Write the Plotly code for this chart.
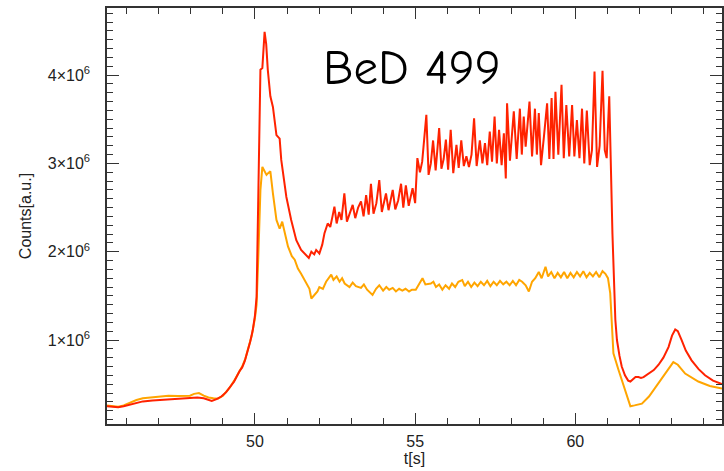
import plotly.graph_objects as go

# Time axis [s] and counts in units of 1e6 (a.u.)
t_red = [45.38, 45.55, 45.73, 45.9, 46.1, 46.3, 46.5, 46.8, 47.04, 47.3, 47.6, 47.97, 48.2, 48.4, 48.55, 48.65, 48.8, 48.95,
         49.1, 49.21, 49.35, 49.52, 49.6, 49.68, 49.78, 49.85, 49.93, 50.0, 50.05, 50.12, 50.17, 50.23, 50.30, 50.35,
         50.40, 50.48, 50.56, 50.67, 50.77, 50.82, 50.98, 51.13, 51.29, 51.44, 51.6, 51.68, 51.76, 51.85, 51.91, 52.01,
         52.1, 52.17, 52.27, 52.35, 52.42, 52.48, 52.55, 52.63, 52.70, 52.79, 52.87, 52.96, 53.05, 53.13, 53.22, 53.31,
         53.39, 53.47, 53.55, 53.62, 53.70, 53.79, 53.88, 53.96, 54.09, 54.17, 54.23, 54.30, 54.38, 54.47, 54.56, 54.63,
         54.71, 54.80, 54.92, 55.0, 55.07, 55.15, 55.22, 55.35, 55.42, 55.49, 55.56, 55.64, 55.75, 55.82, 55.89, 55.96,
         56.03, 56.11, 56.19, 56.29, 56.36, 56.44, 56.52, 56.60, 56.68, 56.76, 56.84, 56.92, 57.02, 57.10, 57.18, 57.25,
         57.33, 57.40, 57.48, 57.55, 57.62, 57.70, 57.77, 57.83, 57.87, 57.96, 58.08, 58.17, 58.27, 58.33, 58.39, 58.45,
         58.57, 58.65, 58.74, 58.80, 58.86, 58.93, 59.02, 59.12, 59.19, 59.26, 59.32, 59.38, 59.47, 59.57, 59.64, 59.72,
         59.81, 59.90, 59.97, 60.05, 60.13, 60.21, 60.28, 60.36, 60.45, 60.52, 60.60, 60.68, 60.76, 60.85, 60.92, 60.98,
         61.06, 61.10, 61.16, 61.25, 61.30, 61.38, 61.45, 61.55, 61.65, 61.72, 61.80, 61.88, 61.97, 62.05, 62.13, 62.3,
         62.45, 62.6, 62.75, 62.91, 63.02, 63.12, 63.2, 63.32, 63.45, 63.63, 63.85, 64.05, 64.3, 64.58]
v_red = [0.25, 0.245, 0.24, 0.25, 0.27, 0.29, 0.305, 0.315, 0.32, 0.33, 0.335, 0.34, 0.35, 0.34, 0.32, 0.31, 0.33, 0.36,
         0.41, 0.46, 0.53, 0.65, 0.69, 0.76, 0.88, 0.98, 1.11, 1.28, 1.49, 2.8, 4.06, 4.08, 4.49, 4.35,
         4.06, 3.76, 3.64, 3.32, 3.28, 3.04, 2.62, 2.36, 2.13, 2.02, 1.96, 1.93, 2.0, 1.97, 2.02, 1.98,
         2.08, 2.21, 2.32, 2.28, 2.40, 2.51, 2.32, 2.45, 2.36, 2.66, 2.34, 2.45, 2.53, 2.38, 2.50, 2.57,
         2.40, 2.64, 2.42, 2.77, 2.43, 2.55, 2.81, 2.45, 2.66, 2.47, 2.60, 2.70, 2.48, 2.58, 2.77, 2.50,
         2.75, 2.52, 2.72, 2.55, 3.06, 2.90, 3.02, 3.55, 2.87, 3.00, 3.26, 2.92, 3.40, 2.94, 3.05, 3.27,
         2.93, 3.38, 2.89, 3.21, 2.95, 3.26, 2.97, 3.08, 2.96, 3.10, 3.51, 2.97, 3.26, 3.0, 3.23, 2.98,
         3.36, 3.02, 3.53, 3.0, 3.38, 2.98, 3.34, 2.83, 3.68, 3.03, 3.59, 3.05, 3.62, 3.10, 3.53, 3.19,
         3.70, 3.08, 3.62, 3.10, 3.57, 2.98, 3.30, 3.68, 3.05, 3.74, 3.05, 3.81, 3.10, 3.89, 3.06, 3.66,
         3.08, 3.66, 3.08, 3.49, 3.06, 3.62, 3.0, 3.60, 2.98, 3.15, 4.04, 2.96, 3.20, 4.05, 3.15, 3.06,
         3.76, 3.06, 2.2, 1.23, 1.0, 0.82, 0.70, 0.6, 0.54, 0.53, 0.55, 0.58, 0.58, 0.57, 0.58, 0.62,
         0.66, 0.72, 0.80, 0.92, 1.05, 1.12, 1.10, 1.0, 0.88, 0.77, 0.67, 0.60, 0.54, 0.50]

t_orange = [45.38, 45.55, 45.73, 45.9, 46.1, 46.3, 46.5, 46.8, 47.04, 47.3, 47.6, 47.97, 48.1, 48.25, 48.4, 48.55, 48.7,
            48.84, 49.0, 49.21, 49.35, 49.52, 49.6, 49.7, 49.8, 49.9, 50.0, 50.05, 50.1, 50.17, 50.23, 50.3, 50.36,
            50.41, 50.48, 50.56, 50.67, 50.77, 50.85, 51.03, 51.15, 51.24, 51.34, 51.44, 51.49, 51.6, 51.7, 51.76,
            51.85, 51.95, 52.01, 52.12, 52.22, 52.3, 52.38, 52.45, 52.55, 52.64, 52.72, 52.8, 52.95, 53.05, 53.15,
            53.31, 53.4, 53.5, 53.67, 53.78, 53.88, 54.0, 54.1, 54.19, 54.3, 54.4, 54.5, 54.6, 54.7, 54.81, 54.9,
            55.02, 55.1, 55.23, 55.32, 55.49, 55.57, 55.65, 55.75, 55.85, 55.95, 56.06, 56.15, 56.25, 56.35, 56.47,
            56.55, 56.65, 56.75, 56.85, 56.95, 57.05, 57.15, 57.25, 57.35, 57.45, 57.55, 57.65, 57.75, 57.85, 57.95,
            58.05, 58.15, 58.25, 58.34, 58.45, 58.55, 58.65, 58.75, 58.86, 58.95, 59.07, 59.15, 59.25, 59.35, 59.45,
            59.55, 59.65, 59.75, 59.85, 59.95, 60.05, 60.15, 60.25, 60.35, 60.45, 60.55, 60.65, 60.75, 60.85, 60.94,
            61.02, 61.09, 61.14, 61.19, 61.35, 61.56, 61.72, 61.85, 62.08, 62.3, 62.6, 62.85, 63.06, 63.2, 63.43,
            63.84, 64.2, 64.58]
v_orange = [0.26, 0.25, 0.245, 0.26, 0.29, 0.32, 0.34, 0.35, 0.36, 0.37, 0.365, 0.37, 0.39, 0.40, 0.37, 0.35, 0.34,
            0.335, 0.37, 0.46, 0.54, 0.66, 0.70, 0.79, 0.92, 1.05, 1.25, 1.4, 1.9, 2.7, 2.96, 2.90, 2.87,
            2.89, 2.91, 2.66, 2.36, 2.26, 2.34, 2.06, 1.95, 1.91, 1.81, 1.75, 1.72, 1.64, 1.58, 1.47,
            1.51, 1.55, 1.60, 1.58, 1.66, 1.70, 1.74, 1.68, 1.72, 1.66, 1.70, 1.64, 1.60, 1.65, 1.61,
            1.59, 1.63, 1.57, 1.51, 1.58, 1.62, 1.56, 1.60, 1.57, 1.59, 1.55, 1.58, 1.56, 1.58, 1.55, 1.57,
            1.57, 1.62, 1.70, 1.63, 1.64, 1.66, 1.60, 1.63, 1.57, 1.62, 1.58, 1.64, 1.60, 1.66, 1.68,
            1.61, 1.66, 1.60, 1.65, 1.61, 1.66, 1.62, 1.67, 1.61, 1.66, 1.62, 1.67, 1.63, 1.66, 1.62,
            1.67, 1.62, 1.68, 1.66, 1.62, 1.55, 1.66, 1.70, 1.77, 1.70, 1.83, 1.72, 1.77, 1.70, 1.76,
            1.71, 1.77, 1.70, 1.76, 1.71, 1.77, 1.72, 1.78, 1.71, 1.76, 1.72, 1.77, 1.71, 1.78, 1.75,
            1.70, 1.53, 1.23, 0.85, 0.66, 0.43, 0.25, 0.26, 0.28, 0.36, 0.51, 0.64, 0.75, 0.72, 0.62,
            0.53, 0.48, 0.45]

y_ticks = [1, 2, 3, 4]
y_tick_text = ["1×10<sup>6</sup>", "2×10<sup>6</sup>", "3×10<sup>6</sup>", "4×10<sup>6</sup>"]
x_ticks = [50, 55, 60]
x_tick_text = ["50", "55", "60"]

fig = go.Figure()
fig.add_trace(go.Scatter(x=t_orange, y=v_orange, mode="lines",
                         line=dict(color="#FFA500", width=2), showlegend=False))
fig.add_trace(go.Scatter(x=t_red, y=v_red, mode="lines",
                         line=dict(color="#FF2200", width=2), showlegend=False))

font_family = "Liberation Sans, Arial, sans-serif"
axis_common = dict(showline=True, linecolor="#333333", linewidth=1.5, mirror="ticks",
                   ticks="inside", tickcolor="#333333", tickwidth=1, showgrid=False, zeroline=False,
                   tickfont=dict(family=font_family, size=16, color="#222222"),
                   title_font=dict(family=font_family, size=16, color="#222222"))

fig.update_xaxes(range=[45.38, 64.58], tickvals=x_ticks, ticktext=x_tick_text, ticklen=11,
                 minor=dict(ticks="inside", dtick=1, tick0=45, ticklen=6, tickcolor="#333333", tickwidth=1),
                 title_text="t[s]", title_standoff=2, ticklabelstandoff=2, **axis_common)
fig.update_yaxes(range=[0.049, 4.76], tickvals=y_ticks, ticktext=y_tick_text, ticklen=12,
                 minor=dict(ticks="inside", dtick=0.1, tick0=0, ticklen=6, tickcolor="#333333", tickwidth=1),
                 title_text="Counts[a.u.]", title_standoff=12, ticklabelstandoff=12, **axis_common)

fig.add_annotation(x=(413 - 107) / 617, y=(424 - 68) / 416, xref="x domain", yref="y domain",
                   xanchor="center", yanchor="middle", text="BeD 499", showarrow=False,
                   font=dict(family="Comic Sans MS, Comic Neue, DejaVu Sans, sans-serif", size=49, color="black"))

fig.update_layout(width=724, height=471, margin=dict(l=107, r=0, t=8, b=47),
                  plot_bgcolor="white", paper_bgcolor="white")

fig.write_html("out.html")
